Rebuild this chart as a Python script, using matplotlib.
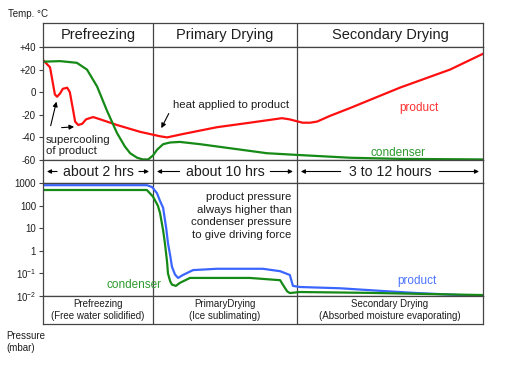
import numpy as np
import matplotlib.pyplot as plt

# --- dados (tempo em unidades arbitrárias 0..100) ---
phase_names = ['Prefreezing', 'Primary Drying', 'Secondary Drying']
phase_edges = [0, 25, 57.7, 100]
phase_durations = ['about 2 hrs', 'about 10 hrs', '3 to 12 hours']
phase_notes = ['Prefreezing\n(Free water solidified)',
               'PrimaryDrying\n(Ice sublimating)',
               'Secondary Drying\n(Absorbed moisture evaporating)']

# temperatura do produto (°C)
t_prod_temp = [0, 1.6, 2.7, 3.2, 3.9, 4.5, 5.5, 6.1, 6.8, 7.3, 8.0, 8.9, 9.8, 11.4, 13,
               16.8, 22, 26.6, 28.2, 31.8, 39.5, 47, 54.3, 56, 59, 60.7, 62.3, 65.2,
               69.8, 81.1, 92.5, 100]
prod_temp = [28.5, 22, -2, -4, -1, 3, 4, 0, -15, -26, -29, -28, -24, -22, -24,
             -29, -35, -39, -40, -37, -31, -27, -23, -24, -27, -27, -26, -21,
             -14, 4, 20, 34]

# temperatura do condensador (°C)
t_cond_temp = [0, 3.9, 7.7, 10, 12.3, 14.5, 16.8, 18.6, 19.8, 21.4, 22.7, 23.9, 25,
               25.9, 27.3, 28.9, 31.1, 35.7, 39.5, 50.9, 57.7, 69.8, 81.1, 100]
cond_temp = [27, 27.5, 26, 20, 5, -16, -36, -48, -54, -58, -59.5, -59.5, -56,
             -51, -46, -44.5, -44, -46, -48, -54, -55.5, -58, -59, -59.5]

# pressão do produto (mbar)
t_prod_press = [0, 23.6, 24.8, 25.9, 26.6, 27.3, 28, 28.4, 28.9, 29.3, 30, 30.7,
                31.8, 34.1, 39.5, 50, 53.9, 56.1, 56.8, 58.4, 67.5, 77.3, 85, 94.8, 100]
prod_press = [800, 800, 660, 355, 160, 80, 10, 2.2, 0.63, 0.2, 0.089, 0.063,
              0.085, 0.14, 0.16, 0.16, 0.125, 0.085, 0.028, 0.025, 0.022, 0.0166,
              0.0135, 0.011, 0.0105]

# pressão do condensador (mbar)
t_cond_press = [0, 23.6, 25, 26.1, 26.6, 27.3, 27.7, 28.2, 28.4, 28.9, 29.3, 30.2,
                31.1, 33.4, 47, 53.9, 54.5, 55.5, 56.1, 58.4, 73.6, 100]
cond_press = [490, 490, 250, 100, 47, 8, 2.2, 0.32, 0.1, 0.045, 0.032, 0.028,
              0.038, 0.063, 0.063, 0.05, 0.032, 0.016, 0.0135, 0.015, 0.0138, 0.011]

temp_ticks = [40, 20, 0, -20, -40, -60]
temp_labels = ['+40', '+20', '0', '-20', '-40', '-60']
press_ticks = [1000, 100, 10, 1, 0.1, 0.01]
press_labels = ['1000', '100', '10', '1', '$10^{-1}$', '$10^{-2}$']

plt.rcParams['font.family'] = ['Liberation Sans', 'DejaVu Sans']
plt.rcParams['mathtext.default'] = 'regular'

W, H = 512, 372
frame_col = '#444444'
text_col = '#1e1e1e'
red, green, blue = '#ff1010', '#168a16', '#3a66ff'

fig = plt.figure(figsize=(W / 100, H / 100), dpi=100)


def painel(top, bottom):
    # cria um eixo usando coordenadas em pixels da imagem original
    ax = fig.add_axes([43 / W, 1 - bottom / H, 440 / W, (bottom - top) / H])
    ax.set_xlim(0, 100)
    ax.set_xticks([])
    for s in ax.spines.values():
        s.set_color(frame_col)
        s.set_linewidth(0.9)
    for e in phase_edges[1:-1]:
        ax.axvline(e, color=frame_col, lw=0.9)
    ax.tick_params(axis='y', direction='out', length=3, width=0.8,
                   color=frame_col, labelsize=7, labelcolor=text_col, pad=2)
    return ax


centros = [(a + b) / 2 for a, b in zip(phase_edges[:-1], phase_edges[1:])]

# 1. cabeçalho com as fases
ax_head = painel(23, 47)
ax_head.set_yticks([])
ax_head.set_ylim(0, 1)
for c, nome in zip(centros, phase_names):
    ax_head.text(c, 0.48, nome, ha='center', va='center', fontsize=10.5, color=text_col)

# 2. temperatura
ax_t = painel(47, 160)
ax_t.plot(t_prod_temp, prod_temp, color=red, lw=1.6)
ax_t.plot(t_cond_temp, cond_temp, color=green, lw=1.6)
ax_t.set_ylim(-60, 40)
ax_t.set_yticks(temp_ticks)
ax_t.set_yticklabels(temp_labels)
ax_t.text(81, -14, 'product', color='#ff3030', fontsize=8.5, ha='left', va='center')
ax_t.text(74.5, -53.5, 'condenser', color='#2e9a2e', fontsize=8.5, ha='left', va='center')
ax_t.text(0.7, -47, 'supercooling\nof product', fontsize=8.2, color=text_col,
          ha='left', va='center', linespacing=1.15)
seta = dict(arrowstyle='-|>', color='black', lw=0.8, mutation_scale=7)
ax_t.annotate('', xy=(3.2, -6), xytext=(1.6, -32), arrowprops=seta)
ax_t.annotate('', xy=(7.7, -30.5), xytext=(3.6, -31.5), arrowprops=seta)
ax_t.annotate('heat applied to product', xy=(26.6, -34), xytext=(29.5, -11),
              fontsize=8.2, color=text_col, ha='left', va='center',
              arrowprops=dict(arrowstyle='-|>', color='black', lw=0.8,
                              mutation_scale=7, relpos=(0, 0.4)))

# 3. linha das durações
ax_d = painel(160, 183)
ax_d.set_yticks([])
ax_d.set_ylim(0, 1)
meia_largura = [9.3, 10.3, 11.2]
for (a, b), c, txt, hw in zip(zip(phase_edges[:-1], phase_edges[1:]), centros,
                              phase_durations, meia_largura):
    ax_d.text(c, 0.5, txt, ha='center', va='center', fontsize=10.2, color=text_col)
    st = dict(arrowstyle='-|>', color='black', lw=0.8, mutation_scale=6,
              shrinkA=0, shrinkB=0)
    ax_d.annotate('', xy=(a + 0.9, 0.5), xytext=(c - hw, 0.5), arrowprops=st)
    ax_d.annotate('', xy=(b - 0.9, 0.5), xytext=(c + hw, 0.5), arrowprops=st)

# 4. pressão (escala log)
ax_p = painel(183, 296)
ax_p.plot(t_prod_press, prod_press, color=blue, lw=1.6)
ax_p.plot(t_cond_press, cond_press, color=green, lw=1.6)
ax_p.set_yscale('log')
ax_p.set_ylim(0.01, 1000)
ax_p.set_yticks(press_ticks)
ax_p.set_yticklabels(press_labels)
ax_p.yaxis.set_minor_locator(plt.NullLocator())
ax_p.text(80.5, 0.045, 'product', color='#4d74ff', fontsize=8.5, ha='left', va='center')
ax_p.text(14.5, 0.03, 'condenser', color='#2e9a2e', fontsize=8.5, ha='left', va='center')
ax_p.text(56.5, 35, 'product pressure\nalways higher than\ncondenser pressure\nto give driving force',
          fontsize=8.2, color=text_col, ha='right', va='center', linespacing=1.3)

# 5. rodapé com a descrição das fases
ax_f = painel(296, 324)
ax_f.set_yticks([])
ax_f.set_ylim(0, 1)
for c, nota in zip(centros, phase_notes):
    ax_f.text(c, 0.5, nota, ha='center', va='center', fontsize=7, color=text_col,
              linespacing=1.2)

# rótulos dos eixos
fig.text(8 / W, 1 - 14 / H, 'Temp. °C', fontsize=7, color=text_col, va='center')
fig.text(6 / W, 1 - 342 / H, 'Pressure\n(mbar)', fontsize=7, color=text_col,
         va='center', linespacing=1.3)

plt.savefig('out.png', dpi=100)
